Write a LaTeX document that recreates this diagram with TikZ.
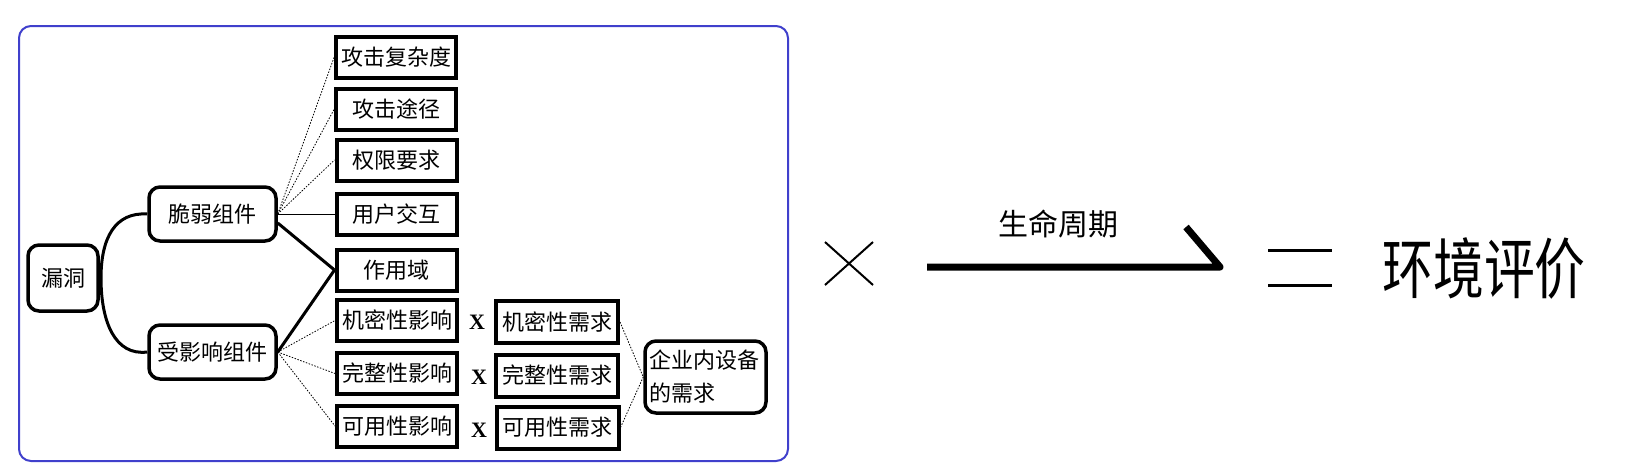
\documentclass[tikz,border=0pt]{standalone}
\usepackage{fontspec}
\setmainfont{Liberation Serif}
\newfontfamily\cjk{Noto Sans CJK SC}
\definecolor{frameblue}{RGB}{64,64,204}
\tikzset{
  sqbox/.style={draw, line width=4, minimum width=120, minimum height=41, inner sep=0,
    font=\cjk\fontsize{22}{26}\selectfont},
  rbox/.style={draw, line width=3.5, rounded corners=11, inner sep=0,
    font=\cjk\fontsize{22}{26}\selectfont},
  thickline/.style={line width=3},
  thinline/.style={line width=1.5},
  dotline/.style={line width=0.8, dash pattern=on 1.5 off 1.5},
  xmark/.style={font=\bfseries\fontsize{22}{24}\selectfont, inner sep=0},
}
\begin{document}
\begin{tikzpicture}[x=1pt, y=-1pt]
\useasboundingbox (0,0) rectangle (1639,475);
% frame
\draw[frameblue, line width=2, rounded corners=12] (19,26) rectangle (788,461);

% left nodes
\node[rbox, minimum width=70, minimum height=66] (vuln) at (63,278) {漏洞};
\node[rbox, minimum width=127, minimum height=54] (weak) at (212.5,214) {脆弱组件};
\node[rbox, minimum width=127, minimum height=54] (aff) at (212.5,352) {受影响组件};

% middle column
\node[sqbox] (c1) at (396,57.5) {攻击复杂度};
\node[sqbox] (c2) at (396,109.5) {攻击途径};
\node[sqbox] (c3) at (396.5,160) {权限要求};
\node[sqbox] (c4) at (396.5,214.5) {用户交互};
\node[sqbox] (c5) at (396.5,270) {作用域};
\node[sqbox] (c6) at (397,320.5) {机密性影响};
\node[sqbox] (c7) at (397,373.5) {完整性影响};
\node[sqbox] (c8) at (397,426) {可用性影响};

% multiplication marks
\node[xmark] (x1) at (477,322) {X};
\node[xmark] (x2) at (479,377) {X};
\node[xmark] (x3) at (479,430) {X};

% requirement column
\node[sqbox, minimum width=122, minimum height=42] (r1) at (557,322) {机密性需求};
\node[sqbox, minimum width=122, minimum height=42] (r2) at (557,375.5) {完整性需求};
\node[sqbox, minimum width=122, minimum height=42] (r3) at (557.5,427.5) {可用性需求};

\node[rbox, minimum width=121, minimum height=72, text width=113, align=left,
  font=\cjk\fontsize{22}{33}\selectfont] (ent) at (705.5,377) {企业内设备\\的需求};

% connectors
\draw[thickline] (weak.west) .. controls (115,212) and (101,238) .. (101,278)
  .. controls (101,322) and (115,356) .. (aff.west);
\draw[dotline] (weak.east) -- (c1.west);
\draw[dotline] (weak.east) -- (c2.west);
\draw[dotline] (weak.east) -- (c3.west);
\draw[thinline] (weak.east |- c4.west) -- (c4.west);
\draw[thickline] ([yshift=-9]weak.east) -- (c5.west);
\draw[thickline] (aff.east) -- (c5.west);
\draw[dotline] (aff.east) -- (c6.west);
\draw[dotline] (aff.east) -- (c7.west);
\draw[dotline] (aff.east) -- (c8.west);
\draw[dotline] (r1.east) -- (ent.west);
\draw[dotline] (r3.east) -- (ent.west);

% right part
\coordinate (tA) at (825,242);
\coordinate (tB) at (873,285);
\coordinate (tC) at (873,242);
\coordinate (tD) at (825,285);
\draw[line width=2] (tA) -- (tB);
\draw[line width=2] (tC) -- (tD);

\coordinate (aS) at (927,267);
\coordinate (aE) at (1220,267);
\coordinate (aH) at (1186,227);
\draw[line width=7, line join=round] (aS) -- (aE) -- (aH);
\node[font=\cjk\fontsize{30}{32}\selectfont, inner sep=0] (life) at (1058,224) {生命周期};

\coordinate (e1) at (1268,250);
\coordinate (e2) at (1332,250);
\coordinate (e3) at (1268,285);
\coordinate (e4) at (1332,285);
\draw[line width=3] (e1) -- (e2);
\draw[line width=3] (e3) -- (e4);

\node[font=\cjk\fontsize{66}{70}\selectfont, inner sep=0] (env) at (1484,268.5) {\scalebox{0.77}[1]{环境评价}};
\end{tikzpicture}
\end{document}
